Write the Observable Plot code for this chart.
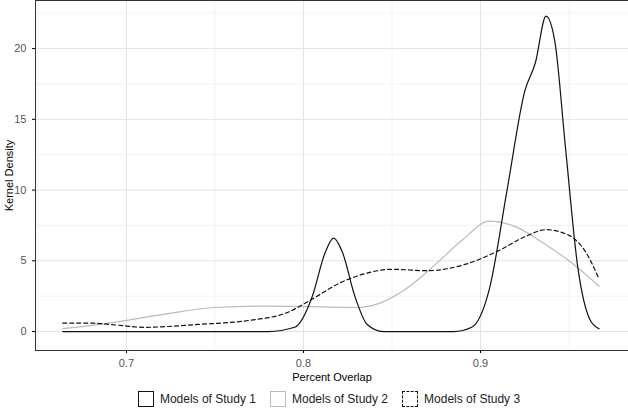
<!DOCTYPE html>
<html><head>
<meta charset="utf-8">
<script src="https://cdn.jsdelivr.net/npm/d3@7"></script>
<script src="https://cdn.jsdelivr.net/npm/@observablehq/plot@0.6"></script>
<style>
body{margin:0;font-family:"Liberation Sans",Arial,sans-serif;background:#fff}
#leg{display:flex;justify-content:center;gap:14px;font-size:12px;color:#222;margin-top:6px;margin-left:30px}
#leg span{display:flex;align-items:center;gap:6px}
#leg i{display:inline-block;width:16px;height:16px;box-sizing:border-box}
</style></head><body>
<div id="chart"></div>
<div id="leg">
<span><i style="border:1.3px solid #111"></i>Models of Study 1</span>
<span><i style="border:1.3px solid #bbb"></i>Models of Study 2</span>
<span><i style="border:1.3px dashed #111"></i>Models of Study 3</span>
</div>
<script>
const s1x=[0.664,0.70,0.75,0.78,0.795,0.805,0.812,0.817,0.822,0.829,0.836,0.845,0.87,0.885,0.895,0.905,0.915,0.925,0.931,0.937,0.942,0.948,0.955,0.962,0.967];
const s1y=[0,0,0,0,0.3,2.5,5.5,6.6,5.6,2.5,0.5,0,0,0,0.3,3,10,17,19,22.3,20.5,13,4.5,0.8,0.2];
const s2x=[0.664,0.69,0.72,0.75,0.78,0.81,0.83,0.845,0.86,0.875,0.89,0.905,0.92,0.935,0.95,0.967];
const s2y=[0.2,0.6,1.2,1.7,1.8,1.75,1.7,2.1,3.2,4.8,6.5,7.8,7.4,6.3,5.0,3.2];
const s3x=[0.664,0.68,0.695,0.71,0.74,0.77,0.79,0.805,0.82,0.835,0.85,0.87,0.89,0.91,0.925,0.937,0.95,0.96,0.967];
const s3y=[0.6,0.6,0.45,0.3,0.5,0.8,1.3,2.3,3.4,4.1,4.4,4.3,4.7,5.7,6.7,7.2,6.8,5.5,3.7];
const xTicks=[0.7,0.8,0.9], yTicks=[0,5,10,15,20];
const d=(xs,ys,k)=>xs.map((x,i)=>({x,y:ys[i],k}));
const p=Plot.plot({
 width:628,height:385,marginLeft:35,marginRight:0,marginTop:0,marginBottom:35,
 style:{fontFamily:"Liberation Sans, Arial, sans-serif",fontSize:"11px"},
 x:{domain:[0.6486,0.9836],ticks:xTicks,tickFormat:d=>String(d),label:"Percent Overlap",labelArrow:false,labelAnchor:"center",labelOffset:30,tickSize:3},
 y:{domain:[-1.34,23.4],ticks:yTicks,label:"Kernel Density",labelArrow:false,labelAnchor:"center",labelOffset:30,tickSize:3},
 marks:[
  Plot.gridX([0.65,0.75,0.85,0.95],{stroke:"#f2f2f2",strokeOpacity:1}),
  Plot.gridY([2.5,7.5,12.5,17.5,22.5],{stroke:"#f2f2f2",strokeOpacity:1}),
  Plot.gridX(xTicks,{stroke:"#e4e4e4",strokeOpacity:1}),
  Plot.gridY(yTicks,{stroke:"#e4e4e4",strokeOpacity:1}),
  Plot.frame({stroke:"#333"}),
  Plot.line(d(s2x,s2y),{x:"x",y:"y",stroke:"#bbb",strokeWidth:1.2,curve:"monotone-x"}),
  Plot.line(d(s3x,s3y),{x:"x",y:"y",stroke:"#111",strokeWidth:1.2,strokeDasharray:"4,3",curve:"monotone-x"}),
  Plot.line(d(s1x,s1y),{x:"x",y:"y",stroke:"#111",strokeWidth:1.2,curve:"monotone-x"})
 ]
});
p.querySelectorAll('[aria-label$="tick label"] text').forEach(t=>t.setAttribute("fill","#555"));
document.getElementById("chart").append(p);
</script></body></html>
